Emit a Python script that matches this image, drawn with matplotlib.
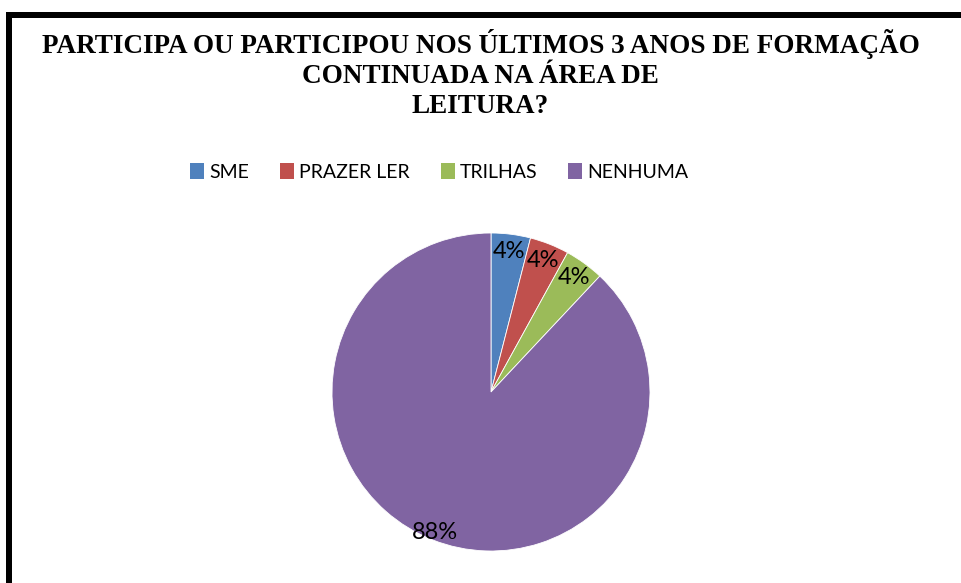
import numpy as np
import matplotlib.pyplot as plt
from matplotlib.patches import Patch
from matplotlib.lines import Line2D

# data
labels = ["SME", "PRAZER LER", "TRILHAS", "NENHUMA"]
values = [4, 4, 4, 88]
colors = ["#4F81BD", "#C0504D", "#9BBB59", "#8064A2"]

title = ("PARTICIPA OU PARTICIPOU NOS ÚLTIMOS 3 ANOS DE FORMAÇÃO\n"
         "CONTINUADA NA ÁREA DE\nLEITURA?")

W, H = 961, 583
fig = plt.figure(figsize=(W / 100, H / 100), dpi=100)

# frame: thick black line on left and top only
fig.add_artist(Line2D([9 / W, 9 / W], [0, 1 - 12 / H], color="black",
                      lw=4.32, solid_capstyle="butt", transform=fig.transFigure))
fig.add_artist(Line2D([6 / W, 1], [1 - 15 / H, 1 - 15 / H], color="black",
                      lw=4.32, solid_capstyle="butt", transform=fig.transFigure))

fig.text(0.5, 1 - 29 / H, title, ha="center", va="top", fontsize=19.5,
         fontweight="bold", family="Liberation Serif", linespacing=1.27)

handles = [Patch(facecolor=c, edgecolor="none") for c in colors]
fig.legend(handles, labels, loc="center", bbox_to_anchor=(0.457, 1 - 172 / H),
           ncol=4, frameon=False, prop={"family": "Lato", "size": 14},
           handlelength=0.72, handleheight=0.85, handletextpad=0.25,
           columnspacing=1.6, borderpad=0)

cx, cy, r = 491, 392, 159
ax = fig.add_axes([(cx - r) / W, (H - cy - r) / H, 2 * r / W, 2 * r / H])
wedges, texts, autotexts = ax.pie(values, colors=colors, startangle=90,
                                  counterclock=False, autopct="%1.0f%%",
                                  pctdistance=0.89, radius=1,
                                  wedgeprops={"edgecolor": "white", "linewidth": 0.6},
                                  textprops={"family": "Lato", "size": 17})
# the big slice label sits a bit further out
x, y = autotexts[-1].get_position()
autotexts[-1].set_position((x * 0.95 / 0.89, y * 0.95 / 0.89))
ax.set_xlim(-1, 1)
ax.set_ylim(-1, 1)
ax.set_aspect("equal")

fig.savefig("out.png", dpi=100)
